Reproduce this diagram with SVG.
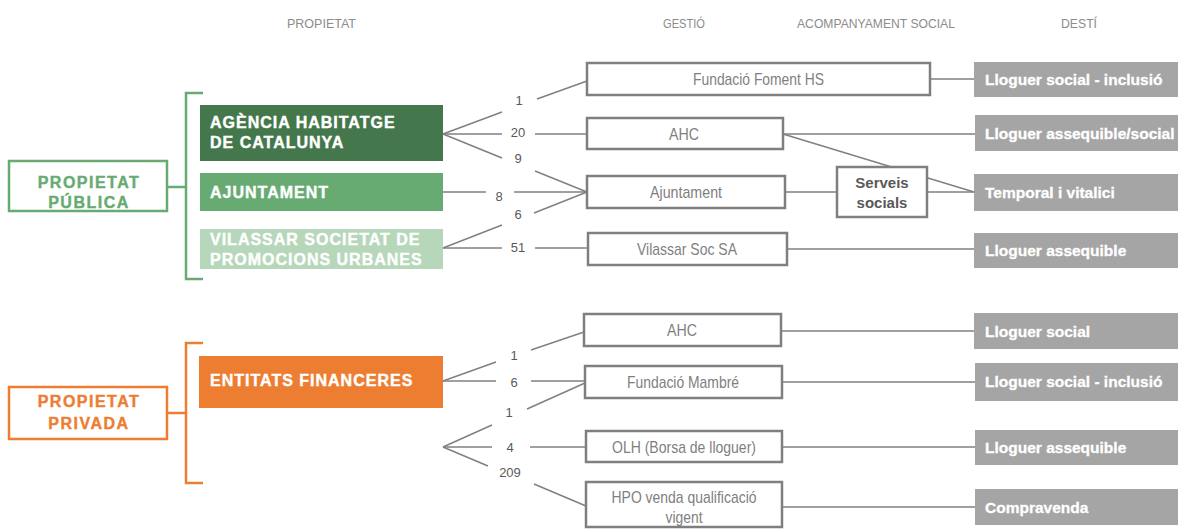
<svg xmlns="http://www.w3.org/2000/svg" width="1178" height="529" viewBox="0 0 1178 529">
<style>
.hdr{font-family:"Liberation Sans",Arial,sans-serif;font-size:13px;fill:#8c8c8c}
.own{font-family:"Liberation Sans",Arial,sans-serif;font-size:16px;font-weight:bold;fill:#ffffff;letter-spacing:1px;stroke:#ffffff;stroke-width:0.4}
.cat{font-family:"Liberation Sans",Arial,sans-serif;font-size:16px;font-weight:bold;letter-spacing:1.5px;text-anchor:middle;stroke-width:0.4}
.gbox{fill:#ffffff;stroke:#7f7f7f;stroke-width:2.5}
.gtxt{font-family:"Liberation Sans",Arial,sans-serif;font-size:17px;fill:#7f7f7f;text-anchor:middle}
.dbox{fill:#a5a5a5}
.dtxt{font-family:"Liberation Sans",Arial,sans-serif;font-size:15.5px;font-weight:bold;fill:#ffffff;stroke:#ffffff;stroke-width:0.3}
.num{font-family:"Liberation Sans",Arial,sans-serif;font-size:13px;fill:#595959;text-anchor:middle}
.ln{stroke:#808080;stroke-width:1.5;fill:none}
.soc{font-family:"Liberation Sans",Arial,sans-serif;font-size:15px;font-weight:bold;fill:#595959;text-anchor:middle}
</style>

<g id="headers">
<text class="hdr" x="287" y="28" textLength="69" lengthAdjust="spacingAndGlyphs">PROPIETAT</text>
<text class="hdr" x="663" y="28" textLength="42" lengthAdjust="spacingAndGlyphs">GESTIÓ</text>
<text class="hdr" x="797" y="28" textLength="158" lengthAdjust="spacingAndGlyphs">ACOMPANYAMENT SOCIAL</text>
<text class="hdr" x="1061" y="28" textLength="36" lengthAdjust="spacingAndGlyphs">DESTÍ</text>
</g>

<g id="connectors">
<path d="M203,93 H186 V279 H203" stroke="#67ab73" stroke-width="2.5" fill="none"/>
<line x1="168" y1="187" x2="186" y2="187" stroke="#67ab73" stroke-width="2.5"/>
<path d="M203,343 H186 V483 H203" stroke="#ed7d31" stroke-width="2.5" fill="none"/>
<line x1="168" y1="413" x2="186" y2="413" stroke="#ed7d31" stroke-width="2.5"/>

<line class="ln" x1="443" y1="134" x2="502" y2="112"/><line class="ln" x1="537" y1="99" x2="587" y2="81"/>
<line class="ln" x1="443" y1="134" x2="502" y2="134"/><line class="ln" x1="535" y1="134" x2="587" y2="134"/>
<line class="ln" x1="443" y1="134" x2="502" y2="158"/><line class="ln" x1="535" y1="171" x2="587" y2="192"/>
<line class="ln" x1="443" y1="192" x2="486" y2="192"/><line class="ln" x1="514" y1="192" x2="587" y2="192"/>
<line class="ln" x1="443" y1="248" x2="502" y2="225"/><line class="ln" x1="534" y1="213" x2="587" y2="192"/>
<line class="ln" x1="443" y1="248" x2="502" y2="248"/><line class="ln" x1="535" y1="248" x2="588" y2="248"/>

<line class="ln" x1="930" y1="79" x2="974" y2="79"/>
<line class="ln" x1="783" y1="134" x2="975" y2="134"/>
<line class="ln" x1="783" y1="134" x2="974" y2="192"/>
<line class="ln" x1="785" y1="192" x2="974" y2="192"/>
<line class="ln" x1="787" y1="249" x2="974" y2="249"/>

<line class="ln" x1="443" y1="381" x2="496" y2="362"/><line class="ln" x1="531" y1="350" x2="584" y2="332"/>
<line class="ln" x1="443" y1="381" x2="496" y2="381"/><line class="ln" x1="531" y1="381" x2="585" y2="381"/>
<line class="ln" x1="443" y1="447" x2="492" y2="425"/><line class="ln" x1="527" y1="409" x2="585" y2="383"/>
<line class="ln" x1="443" y1="447" x2="492" y2="447"/><line class="ln" x1="530" y1="447" x2="586" y2="447"/>
<line class="ln" x1="443" y1="447" x2="488" y2="466"/><line class="ln" x1="534" y1="484" x2="586" y2="506"/>

<line class="ln" x1="781" y1="331" x2="974" y2="331"/>
<line class="ln" x1="782" y1="382" x2="975" y2="382"/>
<line class="ln" x1="782" y1="447" x2="975" y2="447"/>
<line class="ln" x1="782" y1="507" x2="975" y2="507"/>

<text class="num" x="519" y="105">1</text>
<text class="num" x="518" y="137">20</text>
<text class="num" x="518" y="163">9</text>
<text class="num" x="499" y="201">8</text>
<text class="num" x="518" y="219">6</text>
<text class="num" x="518" y="252">51</text>
<text class="num" x="514" y="360">1</text>
<text class="num" x="514" y="387">6</text>
<text class="num" x="509" y="417">1</text>
<text class="num" x="510" y="452">4</text>
<text class="num" x="510" y="477">209</text>
</g>

<g id="propietat-publica">
<rect x="9" y="161" width="158" height="50" fill="#ffffff" stroke="#67ab73" stroke-width="2.5"/>
<text class="cat" x="89" y="188" fill="#67ab73" stroke="#67ab73">PROPIETAT</text>
<text class="cat" x="89" y="208" fill="#67ab73" stroke="#67ab73">PÚBLICA</text>
</g>

<g id="agencia-habitatge">
<rect x="200" y="105" width="243" height="56" fill="#44784c"/>
<text class="own" x="210" y="128">AGÈNCIA HABITATGE</text>
<text class="own" x="210" y="148">DE CATALUNYA</text>
</g>

<g id="ajuntament">
<rect x="200" y="173" width="243" height="38" fill="#67ab73"/>
<text class="own" x="210" y="198">AJUNTAMENT</text>
</g>

<g id="vilassar-societat">
<rect x="200" y="229" width="243" height="40" fill="#b6d7b9"/>
<text class="own" x="210" y="245">VILASSAR SOCIETAT DE</text>
<text class="own" x="210" y="265">PROMOCIONS URBANES</text>
</g>

<g id="propietat-privada">
<rect x="9" y="387" width="158" height="52" fill="#ffffff" stroke="#ed7d31" stroke-width="2.5"/>
<text class="cat" x="89" y="407" fill="#ed7d31" stroke="#ed7d31">PROPIETAT</text>
<text class="cat" x="89" y="429" fill="#ed7d31" stroke="#ed7d31">PRIVADA</text>
</g>

<g id="entitats-financeres">
<rect x="199" y="356" width="244" height="52" fill="#ed7d31"/>
<text class="own" x="210" y="386">ENTITATS FINANCERES</text>
</g>

<g id="g-fundacio-foment">
<rect class="gbox" x="587" y="63" width="343" height="32"/>
<text class="gtxt" x="758.5" y="85" textLength="131" lengthAdjust="spacingAndGlyphs">Fundació Foment HS</text>
</g>
<g id="g-ahc-1">
<rect class="gbox" x="587" y="118" width="196" height="31"/>
<text class="gtxt" x="684" y="140" textLength="30" lengthAdjust="spacingAndGlyphs">AHC</text>
</g>
<g id="g-ajuntament">
<rect class="gbox" x="587" y="176" width="198" height="32"/>
<text class="gtxt" x="686" y="198" textLength="72" lengthAdjust="spacingAndGlyphs">Ajuntament</text>
</g>
<g id="g-vilassar">
<rect class="gbox" x="588" y="233" width="199" height="32"/>
<text class="gtxt" x="687" y="255" textLength="100" lengthAdjust="spacingAndGlyphs">Vilassar Soc SA</text>
</g>
<g id="g-ahc-2">
<rect class="gbox" x="584" y="314" width="197" height="32"/>
<text class="gtxt" x="682" y="336" textLength="30" lengthAdjust="spacingAndGlyphs">AHC</text>
</g>
<g id="g-mambre">
<rect class="gbox" x="585" y="366" width="197" height="32"/>
<text class="gtxt" x="683" y="388" textLength="112" lengthAdjust="spacingAndGlyphs">Fundació Mambré</text>
</g>
<g id="g-olh">
<rect class="gbox" x="586" y="431" width="196" height="31"/>
<text class="gtxt" x="684" y="453" textLength="144" lengthAdjust="spacingAndGlyphs">OLH (Borsa de lloguer)</text>
</g>
<g id="g-hpo">
<rect class="gbox" x="586" y="482" width="196" height="45"/>
<text class="gtxt" x="684" y="503" textLength="145" lengthAdjust="spacingAndGlyphs">HPO venda qualificació</text>
<text class="gtxt" x="684" y="523" textLength="37" lengthAdjust="spacingAndGlyphs">vigent</text>
</g>

<g id="serveis-socials">
<rect class="gbox" x="837" y="167" width="90" height="50"/>
<text class="soc" x="882" y="188">Serveis</text>
<text class="soc" x="882" y="208">socials</text>
</g>

<g id="d-lloguer-social-inclusio-1">
<rect class="dbox" x="974" y="62" width="204" height="35"/>
<text class="dtxt" x="985" y="85">Lloguer social - inclusió</text>
</g>
<g id="d-lloguer-assequible-social">
<rect class="dbox" x="975" y="115" width="203" height="36"/>
<text class="dtxt" x="985" y="139">Lloguer assequible/social</text>
</g>
<g id="d-temporal">
<rect class="dbox" x="974" y="174" width="204" height="37"/>
<text class="dtxt" x="985" y="198">Temporal i vitalici</text>
</g>
<g id="d-lloguer-assequible-1">
<rect class="dbox" x="974" y="233" width="204" height="35"/>
<text class="dtxt" x="985" y="256">Lloguer assequible</text>
</g>
<g id="d-lloguer-social">
<rect class="dbox" x="974" y="313" width="204" height="36"/>
<text class="dtxt" x="985" y="337">Lloguer social</text>
</g>
<g id="d-lloguer-social-inclusio-2">
<rect class="dbox" x="975" y="363" width="203" height="38"/>
<text class="dtxt" x="985" y="387">Lloguer social - inclusió</text>
</g>
<g id="d-lloguer-assequible-2">
<rect class="dbox" x="975" y="430" width="203" height="35"/>
<text class="dtxt" x="985" y="453">Lloguer assequible</text>
</g>
<g id="d-compravenda">
<rect class="dbox" x="975" y="489" width="203" height="36"/>
<text class="dtxt" x="985" y="513">Compravenda</text>
</g>
</svg>
